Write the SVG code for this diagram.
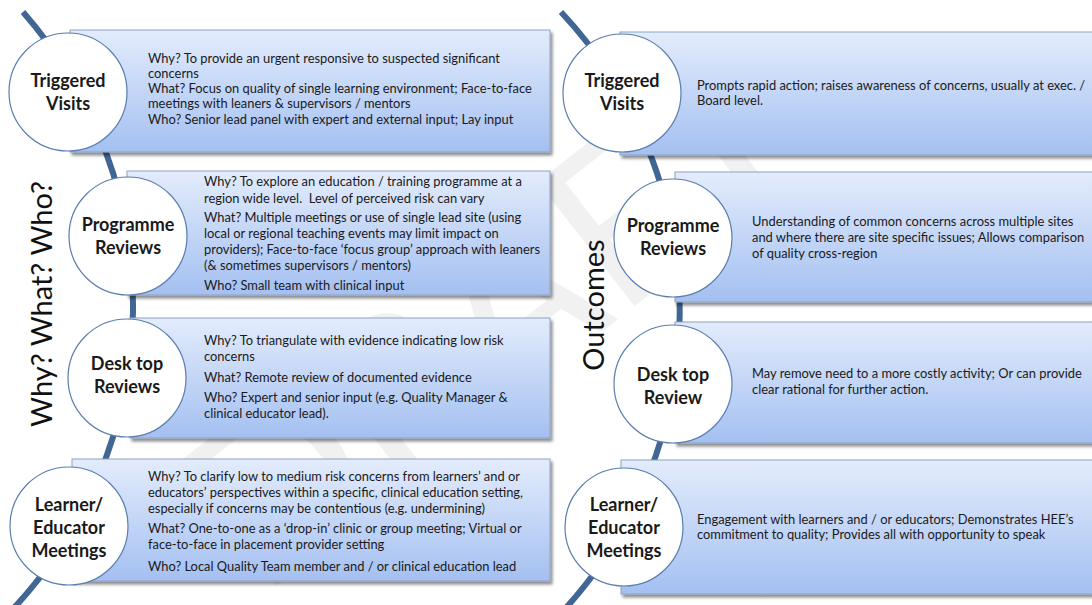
<svg xmlns="http://www.w3.org/2000/svg" width="1092" height="605" viewBox="0 0 1092 605">
<defs>
<linearGradient id="bg" x1="0" y1="0" x2="0" y2="1">
<stop offset="0" stop-color="#e3ecfc"/>
<stop offset="1" stop-color="#a4c0f1"/>
</linearGradient>
<filter id="sh" x="-5%" y="-10%" width="115%" height="130%">
<feDropShadow dx="2" dy="3" stdDeviation="1.5" flood-color="#000" flood-opacity="0.45"/>
</filter>
</defs>
<style>
.box{fill:url(#bg);stroke:#8ea3c2;stroke-width:1;filter:url(#sh)}
.circ{fill:#fff;stroke:#5a7eaf;stroke-width:1.2}
.lbl{font-family:Lato,"Liberation Sans",sans-serif;font-weight:bold;font-size:18px;fill:#1a1a1a;text-anchor:middle}
.t{font-family:Lato,"Liberation Sans",sans-serif;font-size:12.9px;fill:#1a1a1a}
.big{font-family:Lato,"Liberation Sans",sans-serif;font-size:29px;fill:#111;text-anchor:middle}
.arc{fill:none;stroke:#416694;stroke-width:6}
.wm{font-family:Lato,"Liberation Sans",sans-serif;font-size:220px;fill:#f1f1f1;text-anchor:middle}
</style>
<rect width="1092" height="605" fill="#fff"/>
<text class="wm" transform="translate(540,380) rotate(-38)">DRAFT</text>

<g id="connectors">
<path class="arc" d="M 23,12 A 445 445 0 0 1 12,610"/>
<path class="arc" d="M 561,12 A 440 440 0 0 1 564,610"/>
</g>

<text class="big" transform="translate(52,304) rotate(-90)">Why? What? Who?</text>
<text class="big" transform="translate(604,305) rotate(-90)">Outcomes</text>

<g id="why-triggered">
<rect class="box" x="70" y="30" width="480" height="122"/>
<text class="t" x="148" y="63">Why? To provide an urgent responsive to suspected significant</text>
<text class="t" x="148" y="78">concerns</text>
<text class="t" x="148" y="93">What? Focus on quality of single learning environment; Face-to-face</text>
<text class="t" x="148" y="108">meetings with leaners &amp; supervisors / mentors</text>
<text class="t" x="148" y="124">Who? Senior lead panel with expert and external input; Lay input</text>
<circle class="circ" cx="68" cy="92" r="59"/>
<text class="lbl" x="68" y="87">Triggered</text>
<text class="lbl" x="68" y="110">Visits</text>
</g>

<g id="why-programme">
<rect class="box" x="127" y="171" width="423" height="124"/>
<text class="t" x="204" y="186">Why? To explore an education / training programme at a</text>
<text class="t" x="204" y="203">region wide level.&#160; Level of perceived risk can vary</text>
<text class="t" x="204" y="222">What? Multiple meetings or use of single lead site (using</text>
<text class="t" x="204" y="238">local or regional teaching events may limit impact on</text>
<text class="t" x="204" y="254">providers); Face-to-face ‘focus group’ approach with leaners</text>
<text class="t" x="204" y="270">(&amp; sometimes supervisors / mentors)</text>
<text class="t" x="204" y="290">Who? Small team with clinical input</text>
<circle class="circ" cx="128" cy="236" r="59"/>
<text class="lbl" x="128" y="231">Programme</text>
<text class="lbl" x="128" y="254">Reviews</text>
</g>

<g id="why-desktop">
<rect class="box" x="130" y="318" width="420" height="120"/>
<text class="t" x="204" y="345">Why? To triangulate with evidence indicating low risk</text>
<text class="t" x="204" y="361">concerns</text>
<text class="t" x="204" y="382">What? Remote review of documented evidence</text>
<text class="t" x="204" y="402">Who? Expert and senior input (e.g. Quality Manager &amp;</text>
<text class="t" x="204" y="418">clinical educator lead).</text>
<circle class="circ" cx="127" cy="378" r="59"/>
<text class="lbl" x="127" y="370">Desk top</text>
<text class="lbl" x="127" y="393">Reviews</text>
</g>

<g id="why-learner">
<rect class="box" x="72" y="459" width="478" height="122"/>
<text class="t" x="148" y="481">Why? To clarify low to medium risk concerns from learners’ and or</text>
<text class="t" x="148" y="497">educators’ perspectives within a specific, clinical education setting,</text>
<text class="t" x="148" y="513">especially if concerns may be contentious (e.g. undermining)</text>
<text class="t" x="148" y="533">What? One-to-one as a ‘drop-in’ clinic or group meeting; Virtual or</text>
<text class="t" x="148" y="549">face-to-face in placement provider setting</text>
<text class="t" x="148" y="571">Who? Local Quality Team member and / or clinical education lead</text>
<circle class="circ" cx="69" cy="526" r="59"/>
<text class="lbl" x="69" y="511">Learner/</text>
<text class="lbl" x="69" y="534">Educator</text>
<text class="lbl" x="69" y="557">Meetings</text>
</g>

<g id="out-triggered">
<rect class="box" x="620" y="32" width="480" height="123"/>
<text class="t" x="697" y="90">Prompts rapid action; raises awareness of concerns, usually at exec. /</text>
<text class="t" x="697" y="105">Board level.</text>
<circle class="circ" cx="622" cy="93" r="59"/>
<text class="lbl" x="622" y="87">Triggered</text>
<text class="lbl" x="622" y="110">Visits</text>
</g>

<g id="out-programme">
<rect class="box" x="675" y="172" width="425" height="130"/>
<text class="t" x="752" y="226">Understanding of common concerns across multiple sites</text>
<text class="t" x="752" y="242">and where there are site specific issues; Allows comparison</text>
<text class="t" x="752" y="258">of quality cross-region</text>
<circle class="circ" cx="673" cy="238" r="59"/>
<text class="lbl" x="673" y="232">Programme</text>
<text class="lbl" x="673" y="255">Reviews</text>
</g>

<g id="out-desktop">
<rect class="box" x="675" y="322" width="425" height="121"/>
<text class="t" x="752" y="378">May remove need to a more costly activity; Or can provide</text>
<text class="t" x="752" y="394">clear rational for further action.</text>
<circle class="circ" cx="673" cy="384" r="59"/>
<text class="lbl" x="673" y="381">Desk top</text>
<text class="lbl" x="673" y="404">Review</text>
</g>

<g id="out-learner">
<rect class="box" x="621" y="460" width="479" height="134"/>
<text class="t" x="697" y="524">Engagement with learners and / or educators; Demonstrates HEE’s</text>
<text class="t" x="697" y="539">commitment to quality; Provides all with opportunity to speak</text>
<circle class="circ" cx="624" cy="527" r="59"/>
<text class="lbl" x="624" y="511">Learner/</text>
<text class="lbl" x="624" y="534">Educator</text>
<text class="lbl" x="624" y="557">Meetings</text>
</g>
</svg>
